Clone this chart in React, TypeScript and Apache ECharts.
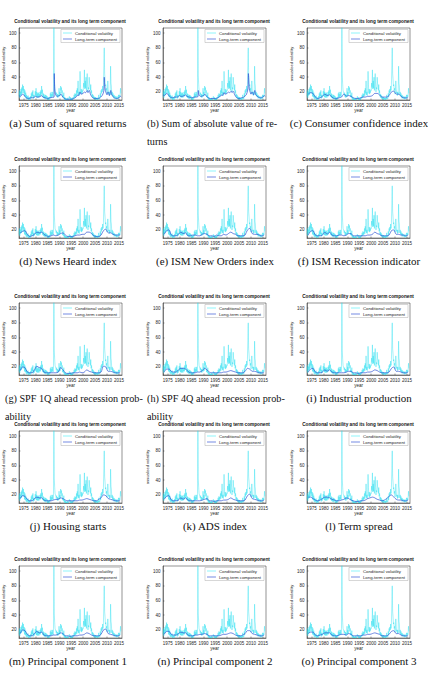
import React, { useEffect, useRef } from "react";
import * as echarts from "echarts";

const TITLE = "Conditional volatility and its long term component";
const X_TICKS = [1975, 1980, 1985, 1990, 1995, 2000, 2005, 2010, 2015];
const Y_TICKS = [20, 40, 60, 80, 100];
const SERIES_NAMES = ["Conditional volatility", "Long-term component"];

// Conditional volatility, bi-monthly readings (6 per year) from 1973 to 2015
const COND_START = 1973;
const COND_PER_YEAR = 6;
const COND_VOL = [
  14, 22, 12, 20, 15, 24, // 1973
  16, 26, 18, 30, 22, 28, // 1974
  18, 24, 14, 22, 13, 19, // 1975
  11, 16, 10, 14, 11, 15, // 1976
  9, 13, 10, 12, 9, 14, // 1977
  11, 18, 12, 20, 14, 22, // 1978
  11, 16, 12, 15, 14, 21, // 1979
  15, 25, 13, 20, 12, 18, // 1980
  13, 19, 12, 17, 14, 20, // 1981
  14, 22, 16, 28, 18, 23, // 1982
  13, 18, 12, 17, 11, 15, // 1983
  11, 16, 10, 15, 12, 14, // 1984
  9, 13, 10, 12, 9, 13, // 1985
  11, 18, 12, 20, 13, 17, // 1986
  14, 20, 13, 22, 115, 42, // 1987
  30, 22, 20, 18, 16, 19, // 1988
  13, 17, 12, 16, 14, 25, // 1989
  14, 20, 15, 28, 22, 26, // 1990
  18, 22, 13, 16, 12, 19, // 1991
  10, 13, 9, 12, 9, 11, // 1992
  9, 11, 8, 12, 9, 10, // 1993
  10, 14, 11, 13, 9, 12, // 1994
  8, 11, 9, 12, 10, 13, // 1995
  11, 16, 12, 18, 13, 17, // 1996
  14, 22, 15, 25, 18, 35, // 1997
  16, 20, 15, 22, 48, 30, // 1998
  18, 24, 17, 22, 19, 23, // 1999
  22, 32, 26, 50, 24, 35, // 2000
  25, 40, 22, 28, 45, 30, // 2001
  20, 26, 24, 40, 32, 28, // 2002
  22, 30, 18, 22, 14, 17, // 2003
  12, 16, 11, 14, 10, 13, // 2004
  10, 13, 9, 12, 10, 12, // 2005
  9, 12, 10, 16, 10, 12, // 2006
  11, 18, 13, 22, 18, 24, // 2007
  20, 28, 22, 30, 55, 80, // 2008
  45, 38, 28, 30, 22, 25, // 2009
  17, 22, 35, 25, 18, 20, // 2010
  15, 20, 16, 55, 32, 28, // 2011
  16, 20, 14, 18, 13, 16, // 2012
  11, 15, 12, 14, 11, 13, // 2013
  10, 14, 11, 12, 10, 16, // 2014
  12, 16, 13, 14, 25, 18, // 2015
];

// Long-term components: panels (a) and (b) as [year, value] readings
const LT_A: [number, number][] = [
  [1973, 15], [1973.5, 14], [1974, 15], [1974.5, 17], [1975, 16], [1975.5, 14], [1976, 12],
  [1977, 11], [1978, 12], [1979, 12], [1980, 14], [1980.5, 13], [1981, 13], [1982, 14],
  [1982.5, 15], [1983, 13], [1984, 12], [1985, 11], [1986, 12], [1987, 12.5], [1987.75, 13],
  [1987.83, 45], [1988, 25], [1988.3, 17], [1989, 14], [1990, 15], [1990.7, 17], [1991, 15],
  [1992, 11], [1993, 10], [1994, 10], [1995, 10], [1996, 11], [1997, 13], [1997.8, 16],
  [1998, 15], [1998.7, 20], [1999, 17], [2000, 18], [2000.5, 20], [2001, 19], [2001.7, 22],
  [2002, 19], [2002.6, 22], [2003, 17], [2003.5, 14], [2004, 12], [2005, 11], [2006, 11],
  [2007, 12], [2007.6, 14], [2008, 15], [2008.7, 22], [2008.85, 40], [2009, 30], [2009.3, 22],
  [2009.7, 18], [2010, 16], [2010.4, 20], [2011, 15], [2011.6, 22], [2012, 16], [2013, 12],
  [2014, 11], [2015, 12], [2015.6, 14], [2016, 13],
];
const LT_B: [number, number][] = [
  [1973, 16], [1973.5, 15], [1974, 16], [1974.5, 18], [1975, 17], [1975.5, 15], [1976, 13],
  [1977, 12], [1978, 13], [1979, 13], [1980, 15], [1980.5, 14], [1981, 14], [1982, 15],
  [1982.5, 16], [1983, 14], [1984, 13], [1985, 12], [1986, 13], [1987, 13], [1987.75, 14],
  [1987.83, 22], [1988, 18], [1988.3, 15], [1989, 14], [1990, 15], [1990.7, 17], [1991, 15],
  [1992, 12], [1993, 11], [1994, 11], [1995, 11], [1996, 12], [1997, 14], [1997.8, 16],
  [1998, 15], [1998.7, 19], [1999, 17], [2000, 18], [2000.5, 20], [2001, 19], [2001.7, 21],
  [2002, 19], [2002.6, 21], [2003, 17], [2003.5, 14], [2004, 12], [2005, 11], [2006, 12],
  [2007, 13], [2007.6, 15], [2008, 16], [2008.7, 24], [2008.9, 45], [2009.1, 32], [2009.3, 24],
  [2009.7, 19], [2010, 17], [2010.4, 20], [2011, 16], [2011.6, 22], [2012, 16], [2013, 13],
  [2014, 12], [2015, 13], [2015.6, 15], [2016, 14],
];

// Long-term components for the other panels: annual readings, 1973..2015 (mid-year)
const LT_START = 1973.5;
const LT_C = [17, 19, 18, 13, 11, 12, 14, 17, 15, 16, 13, 11, 11, 12, 13, 17, 14, 15, 14, 12, 11, 11, 12, 13, 13, 14, 14, 15, 18, 18, 16, 13, 13, 13, 15, 20, 21, 17, 17, 14, 12, 12, 12];
const LT_D = [16, 18, 19, 14, 11, 12, 14, 17, 16, 17, 14, 12, 11, 12, 13, 12, 13, 15, 16, 13, 11, 11, 11, 12, 13, 13, 14, 14, 17, 17, 15, 12, 11, 11, 13, 19, 21, 16, 16, 14, 13, 13, 13];
const LT_E = [14, 19, 20, 13, 12, 12, 14, 17, 15, 16, 12, 12, 13, 13, 12, 12, 14, 15, 14, 12, 12, 11, 13, 12, 12, 14, 13, 15, 17, 15, 14, 12, 12, 12, 13, 20, 22, 15, 14, 14, 13, 12, 13];
const LT_F = [13, 18, 19, 13, 12, 12, 13, 17, 14, 17, 13, 12, 12, 13, 13, 12, 13, 15, 15, 12, 12, 12, 12, 12, 12, 13, 13, 14, 17, 15, 14, 12, 12, 12, 13, 19, 20, 14, 14, 13, 13, 12, 13];
const LT_G = [15, 20, 19, 13, 12, 12, 16, 21, 19, 18, 13, 12, 12, 12, 12, 12, 13, 19, 16, 12, 11, 11, 12, 12, 12, 13, 12, 13, 16, 14, 13, 12, 12, 12, 13, 21, 20, 14, 14, 13, 12, 12, 12];
const LT_H = [13, 17, 17, 14, 13, 13, 16, 18, 18, 17, 14, 12, 12, 12, 13, 13, 15, 18, 16, 13, 12, 12, 12, 12, 12, 13, 13, 14, 15, 14, 13, 12, 12, 12, 14, 18, 17, 14, 14, 13, 12, 12, 12];
const LT_I = [13, 17, 18, 13, 12, 12, 13, 16, 14, 16, 13, 12, 12, 12, 12, 12, 13, 14, 14, 12, 12, 11, 12, 12, 12, 13, 13, 14, 16, 15, 13, 12, 12, 12, 13, 18, 20, 14, 14, 13, 12, 12, 13];
const LT_J = [15, 19, 18, 14, 12, 12, 15, 17, 16, 16, 13, 12, 12, 12, 13, 14, 14, 16, 15, 13, 12, 12, 12, 12, 12, 13, 13, 14, 15, 14, 13, 12, 12, 14, 16, 20, 19, 15, 14, 13, 12, 12, 12];
const LT_K = [14, 18, 19, 13, 12, 12, 13, 16, 14, 16, 13, 12, 12, 12, 12, 12, 13, 14, 15, 12, 12, 11, 12, 12, 12, 13, 13, 14, 16, 14, 13, 12, 12, 12, 13, 19, 21, 15, 14, 13, 12, 12, 13];
const LT_L = [17, 17, 15, 13, 12, 13, 15, 17, 17, 16, 14, 13, 12, 12, 13, 14, 16, 15, 13, 12, 11, 11, 12, 12, 13, 15, 16, 17, 16, 14, 13, 12, 13, 15, 18, 20, 17, 14, 13, 13, 12, 12, 13];
const LT_M = [15, 20, 19, 14, 12, 12, 15, 18, 16, 17, 13, 12, 12, 12, 13, 13, 14, 16, 15, 12, 12, 11, 12, 12, 12, 13, 13, 14, 16, 15, 13, 12, 12, 12, 14, 20, 21, 15, 14, 13, 12, 12, 13];
const LT_N = [14, 18, 18, 14, 13, 13, 15, 17, 16, 16, 13, 12, 12, 13, 13, 14, 14, 15, 14, 12, 12, 12, 12, 12, 13, 14, 14, 15, 16, 15, 13, 12, 12, 13, 15, 19, 19, 15, 14, 13, 12, 12, 13];
const LT_O = [15, 17, 17, 13, 12, 13, 14, 16, 16, 16, 13, 12, 12, 13, 14, 14, 13, 15, 14, 12, 12, 12, 12, 13, 13, 14, 14, 15, 16, 15, 14, 12, 12, 12, 14, 18, 19, 15, 15, 13, 12, 12, 12];

const CAPTIONS = [
  "(a) Sum of squared returns",
  "(b) Sum of absolute value of re-\nturns",
  "(c) Consumer confidence index",
  "(d) News Heard index",
  "(e) ISM New Orders index",
  "(f) ISM Recession indicator",
  "(g) SPF 1Q ahead recession prob-\nability",
  "(h) SPF 4Q ahead recession prob-\nability",
  "(i) Industrial production",
  "(j) Housing starts",
  "(k) ADS index",
  "(l) Term spread",
  "(m) Principal component 1",
  "(n) Principal component 2",
  "(o) Principal component 3",
];

const annual = (arr: number[]): [number, number][] => arr.map((v, i) => [LT_START + i, v]);
const LONG_TERM: [number, number][][] = [
  LT_A, LT_B, annual(LT_C), annual(LT_D), annual(LT_E), annual(LT_F), annual(LT_G),
  annual(LT_H), annual(LT_I), annual(LT_J), annual(LT_K), annual(LT_L), annual(LT_M),
  annual(LT_N), annual(LT_O),
];
const COND_PAIRS: [number, number][] = COND_VOL.map((v, i) => [COND_START + i / COND_PER_YEAR, v]);

// layout
const COL_CX = [70, 214, 358];
const CAP_CX = [68, 215, 359];
const CAP_LEFT = [5, 147, 290];
const ROW_T = [21, 159, 296, 424, 559];
const SANS = "Liberation Sans, Arial, sans-serif";
const SERIF = "Liberation Serif, Times New Roman, serif";
const AX = "#262626";

export default function App() {
  const ref = useRef<HTMLDivElement>(null);
  useEffect(() => {
    if (!ref.current) return;
    const chart = echarts.init(ref.current, undefined, { renderer: "svg" });
    const grids: any[] = [];
    const xAxes: any[] = [];
    const yAxes: any[] = [];
    const series: any[] = [];
    const legends: any[] = [];
    const graphics: any[] = [];
    for (let i = 0; i < 15; i++) {
      const r = Math.floor(i / 3);
      const c = i % 3;
      const cx = COL_CX[c];
      const T = ROW_T[r];
      const left = cx - 51;
      const top = T + 7;
      const w = 103;
      const h = 72;
      grids.push({ left, top, width: w, height: h, show: true, borderColor: AX, borderWidth: 0.5, backgroundColor: "#fff" });
      xAxes.push({
        type: "value", gridIndex: i, min: 1973, max: 2016.3,
        name: "year", nameLocation: "middle", nameGap: 8,
        nameTextStyle: { fontSize: 4.5, fontFamily: SANS, color: AX },
        axisLine: { show: true, lineStyle: { color: AX, width: 0.5 } },
        axisTick: { show: true, inside: true, length: 1.5, customValues: X_TICKS, lineStyle: { color: AX, width: 0.4 } },
        axisLabel: { customValues: X_TICKS, formatter: (v: number) => String(v), fontSize: 4.5, fontFamily: SANS, color: AX, margin: 2.5 },
        splitLine: { show: false },
      });
      yAxes.push({
        type: "value", gridIndex: i, min: 9, max: 107,
        name: "annualised volatility", nameLocation: "middle", nameGap: 10, nameRotate: 90,
        nameTextStyle: { fontSize: 4, fontFamily: SANS, color: AX },
        axisLine: { show: true, lineStyle: { color: AX, width: 0.5 } },
        axisTick: { show: true, inside: true, length: 1.5, customValues: Y_TICKS, lineStyle: { color: AX, width: 0.4 } },
        axisLabel: { customValues: Y_TICKS, formatter: (v: number) => String(v), fontSize: 4.5, fontFamily: SANS, color: AX, margin: 2.5 },
        splitLine: { show: false },
      });
      series.push({
        type: "line", name: SERIES_NAMES[0], xAxisIndex: i, yAxisIndex: i, data: COND_PAIRS,
        showSymbol: false, symbol: "none", clip: true,
        lineStyle: { color: "#22e0f0", width: 0.45, opacity: 0.9 }, itemStyle: { color: "#5ff0f8" },
      });
      series.push({
        type: "line", name: SERIES_NAMES[1], xAxisIndex: i, yAxisIndex: i, data: LONG_TERM[i],
        showSymbol: false, symbol: "none", smooth: 0.3, clip: true,
        lineStyle: { color: "#2f55d4", width: 0.7 }, itemStyle: { color: "#3a5ad8" },
      });
      legends.push({
        right: 428 - (left + w) + 2, top: top + 1.5, orient: "vertical",
        backgroundColor: "#fff", borderColor: "#9a9a9a", borderWidth: 0.4, padding: [1.5, 3, 1.5, 2],
        itemWidth: 9, itemHeight: 0.7, itemGap: 2, icon: "rect",
        textStyle: { fontSize: 4.3, fontFamily: SANS, color: AX, padding: [0, 0, 0, -2] },
        data: SERIES_NAMES, selectedMode: false,
      });
      graphics.push({
        type: "text", x: cx, y: T, silent: true,
        style: { text: TITLE, fontSize: 4.7, fontWeight: "bold", fontFamily: SANS, fill: "#111", textAlign: "center", textVerticalAlign: "middle" },
      });
      const cap = CAPTIONS[i];
      const lines = cap.split("\n");
      const capY = T + 102;
      if (lines.length === 1) {
        graphics.push({
          type: "text", x: CAP_CX[c], y: capY, silent: true,
          style: { text: cap, fontSize: 11, fontFamily: SERIF, fill: "#111", textAlign: "center", textVerticalAlign: "middle" },
        });
      } else {
        lines.forEach((ln, k) => {
          graphics.push({
            type: "text", x: CAP_LEFT[c], y: capY + k * 18, silent: true,
            style: { text: ln, fontSize: 10.2, fontFamily: SERIF, fill: "#111", textAlign: "left", textVerticalAlign: "middle" },
          });
        });
      }
    }
    chart.setOption({
      animation: false,
      backgroundColor: "#fff",
      grid: grids, xAxis: xAxes, yAxis: yAxes, series, legend: legends, graphic: graphics,
    });
    return () => chart.dispose();
  }, []);
  return <div ref={ref} style={{ position: "fixed", left: 0, top: 0, width: 428, height: 696 }} />;
}
